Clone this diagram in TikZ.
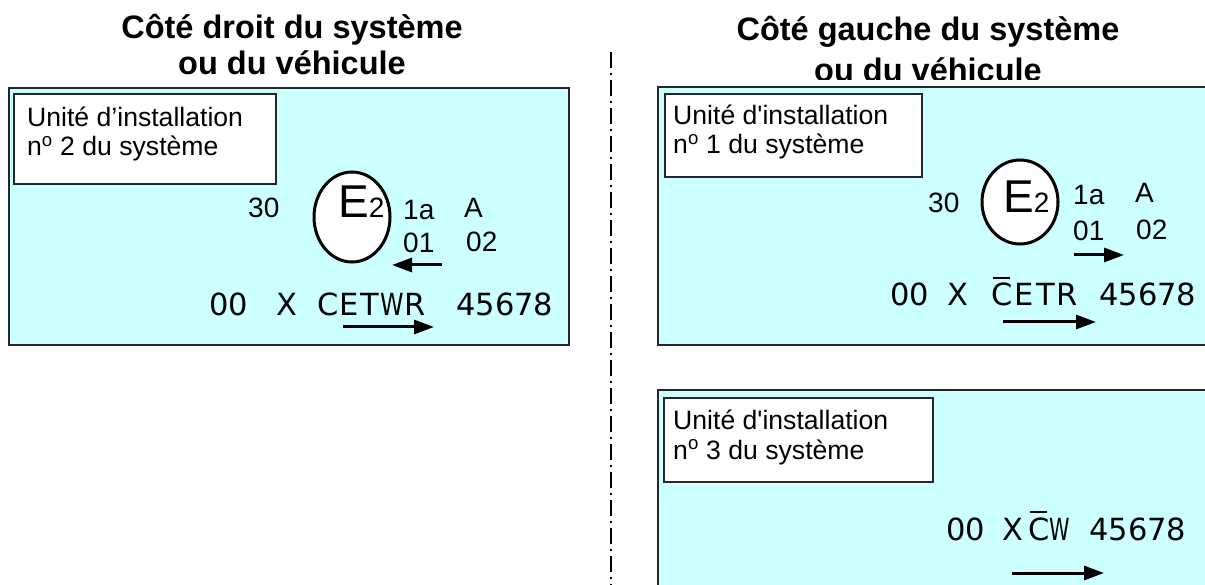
\documentclass[tikz,border=0pt]{standalone}
\usepackage{fontspec}
\usepackage{graphicx}
\setmainfont{Liberation Sans}
\newfontfamily\codefont{DejaVu Sans}
\usetikzlibrary{arrows.meta,shapes.geometric}
\definecolor{panel}{HTML}{CCFFFF}
\newcommand\narrowW[1]{\scalebox{#1}[1]{W}}
\begin{document}
\begin{tikzpicture}[x=1pt,y=-1pt,
  panelbox/.style={draw=black!85,line width=2pt,fill=panel},
  labelbox/.style={draw=black!85,line width=2pt,fill=white,inner sep=0,anchor=north west},
  ttl/.style={inner sep=0,anchor=base,font=\fontsize{32.5}{36}\selectfont\bfseries},
  lbl/.style={inner sep=0,anchor=base west,font=\fontsize{26.6}{30}\selectfont},
  num/.style={inner sep=0,anchor=base west,font=\fontsize{28}{30}\selectfont},
  code/.style={inner sep=0,anchor=base west,font=\codefont\fontsize{30.5}{32}\selectfont},
  emark/.style={ellipse,draw=black,line width=3pt,fill=white,inner sep=0},
  arr/.style={line width=3pt,-{Triangle[length=20pt,width=14pt]}},
  sep/.style={line width=1.6pt,dash pattern=on 16pt off 5pt on 2pt off 5pt}]
\path[use as bounding box] (0,0) rectangle (1205,585);
\clip (0,0) rectangle (1205,585);

% separator
\coordinate (sepA) at (611,52);
\coordinate (sepB) at (611,590);
\draw[sep] (sepA) -- (sepB);

% titles
\node[ttl] (tLa) at (292,39) {Côté droit du système};
\node[ttl] (tLb) at (292,75) {ou du véhicule};
\node[ttl] (tRa) at (928,41) {Côté gauche du système};
\begin{scope}
\clip (640,0) rectangle (1205,79.5);
\node[ttl] (tRb) at (928,82) {ou du véhicule};
\end{scope}

% ---------- left panel ----------
\draw[panelbox] (9,88) rectangle (569,345);
\node[labelbox,minimum width=262pt,minimum height=90pt] (boxL) at (13,93) {};
\node[lbl] (uL1) at (27,127) {Unité d’installation};
\node[lbl] (uL2) at (27,156) {n\textsuperscript{o} 2 du système};

\node[num] (n30L) at (248,218) {30};
\node[emark,minimum width=76pt,minimum height=90pt] (cL) at (352,217) {};
\node[inner sep=0,anchor=base west] (eL) at (338,218) {\fontsize{46}{46}\selectfont E\fontsize{28}{28}\selectfont 2};
\node[num] (aL) at (403,220) {1a};
\node[num] (AL) at (464,218) {A};
\node[num] (oL) at (403,253) {01};
\node[num] (tL) at (466,252) {02};
\coordinate (arL1s) at (442,265);
\coordinate (arL1e) at (392,265);
\draw[arr] (arL1s) -- (arL1e);

\node[code] (zL) at (209,316) {00};
\node[code] (xL) at (276,316) {X};
\node[code] (cwL) at (317,316) {C\kern1.5pt E\kern1.5pt T\kern1pt\narrowW{0.78}\kern1pt R};
\node[code] (dL) at (456,316) {45678};
\coordinate (arL2s) at (343,327);
\coordinate (arL2e) at (434,327);
\draw[arr] (arL2s) -- (arL2e);

% ---------- right top panel ----------
\draw[panelbox] (658,87) rectangle (1220,345);
\node[labelbox,minimum width=257pt,minimum height=83pt] (boxR) at (664,93) {};
\node[lbl] (uR1) at (673,125) {Unité d\textquotesingle installation};
\node[lbl] (uR2) at (673,154) {n\textsuperscript{o} 1 du système};

\node[num] (n30R) at (928,213) {30};
\node[emark,minimum width=76pt,minimum height=84pt] (cR) at (1020,202) {};
\node[inner sep=0,anchor=base west] (eR) at (1003,213) {\fontsize{46}{46}\selectfont E\fontsize{28}{28}\selectfont 2};
\node[num] (aR) at (1073,205) {1a};
\node[num] (AR) at (1135,203) {A};
\node[num] (oR) at (1073,241) {01};
\node[num] (tR) at (1136,240) {02};
\coordinate (arR1s) at (1074,255);
\coordinate (arR1e) at (1124,255);
\draw[arr] (arR1s) -- (arR1e);

\node[code] (zR) at (890,306) {00};
\node[code] (xR) at (947,306) {X};
\node[code] (cR1) at (991,306) {C};
\node[code] (etrR) at ([xshift=2pt]cR1.base east) {E\kern2pt T\kern2pt R};
\draw[line width=2pt] ([xshift=2pt,yshift=5pt]cR1.north west) -- ([xshift=-3pt,yshift=5pt]cR1.north east);
\node[code] (dR) at (1099,306) {45678};
\coordinate (arR2s) at (1003,322);
\coordinate (arR2e) at (1096,322);
\draw[arr] (arR2s) -- (arR2e);

% ---------- right bottom panel ----------
\draw[panelbox] (658,390) rectangle (1220,600);
\node[labelbox,minimum width=269pt,minimum height=84pt] (boxB) at (663,397) {};
\node[lbl] (uB1) at (673,429) {Unité d\textquotesingle installation};
\node[lbl] (uB2) at (673,459) {n\textsuperscript{o} 3 du système};

\node[code] (zB) at (946,540) {00};
\node[code] (xB) at (1002,540) {X};
\node[code] (cB1) at (1028,540) {C};
\node[code] (wB) at (cB1.base east) {\narrowW{0.68}};
\draw[line width=2pt] ([xshift=2pt,yshift=5pt]cB1.north west) -- ([xshift=-3pt,yshift=5pt]cB1.north east);
\node[code] (dB) at (1089,540) {45678};
\coordinate (arB1s) at (1012,573);
\coordinate (arB1e) at (1104,573);
\draw[arr] (arB1s) -- (arB1e);
\end{tikzpicture}
\end{document}
